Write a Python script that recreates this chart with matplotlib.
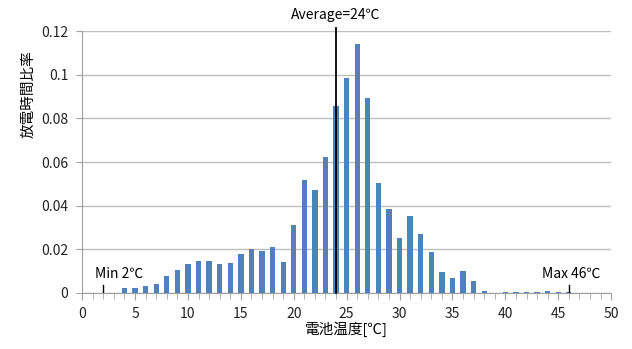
import matplotlib.pyplot as plt
from matplotlib.ticker import MultipleLocator, FuncFormatter

plt.rcParams['font.family'] = ['Noto Sans CJK JP', 'DejaVu Sans']

# battery temperature [degC] and share of discharge time
temps = list(range(2, 47))
ratios = [0.0002, 0.0002, 0.0023, 0.0023, 0.0030, 0.0039, 0.0076, 0.0106,
          0.0135, 0.0145, 0.0145, 0.0135, 0.0138, 0.0178, 0.0201, 0.0194,
          0.0211, 0.0144, 0.0313, 0.0519, 0.0471, 0.0623, 0.0857, 0.0983,
          0.1141, 0.0895, 0.0504, 0.0386, 0.0253, 0.0352, 0.0268, 0.0187,
          0.0098, 0.0067, 0.0102, 0.0056, 0.0011, 0.0, 0.0005, 0.0004,
          0.0004, 0.0004, 0.0008, 0.0006, 0.0004]

t_min, t_avg, t_max = 2, 24, 46
xlabel = '電池温度[℃]'
ylabel = '放電時間比率'

fig = plt.figure(figsize=(6.32, 3.49), dpi=100)
ax = fig.add_axes([0.13, 0.1605, 0.837, 0.7505])

ax.bar(temps, ratios, width=0.5, color='#4F81BD', zorder=3)

ax.set_xlim(0, 50)
ax.set_ylim(0, 0.12)
ax.xaxis.set_major_locator(MultipleLocator(5))
ax.xaxis.set_minor_locator(MultipleLocator(1))
ax.yaxis.set_major_locator(MultipleLocator(0.02))
ax.yaxis.set_major_formatter(FuncFormatter(lambda v, p: '%g' % round(v, 2)))

ax.grid(axis='y', color='#BEBEBE', linewidth=1, zorder=0)
for s in ['top', 'right']:
    ax.spines[s].set_visible(False)
for s in ['left', 'bottom']:
    ax.spines[s].set_color('#A0A0A0')
ax.tick_params(axis='both', which='both', color='#A0A0A0', labelsize=10,
               labelcolor='#222222')
ax.tick_params(axis='x', which='major', length=5, pad=5)
ax.tick_params(axis='x', which='minor', length=4)
ax.tick_params(axis='y', length=4, pad=6)

ax.set_xlabel(xlabel, fontsize=10.5)
ax.xaxis.set_label_coords(0.5, -0.108)
ax.set_ylabel(ylabel, fontsize=10.5)
ax.yaxis.set_label_coords(-0.089, 0.76)

# average, min, max markers
ax.plot([t_avg, t_avg], [0, 0.1215], color='black', linewidth=1.3,
        clip_on=False, zorder=5)
ax.text(t_avg, 0.1240, 'Average=%d℃' % t_avg, ha='center', va='bottom',
        fontsize=10, clip_on=False)
ax.plot([t_min, t_min], [0, 0.0036], color='black', linewidth=1, zorder=5)
ax.text(t_min + 1.45, 0.0055, 'Min %d℃' % t_min, ha='center', va='bottom',
        fontsize=10)
ax.plot([t_max, t_max], [0, 0.0036], color='black', linewidth=1, zorder=5)
ax.text(t_max + 0.2, 0.0055, 'Max %d℃' % t_max, ha='center', va='bottom',
        fontsize=10)

fig.savefig('out.png', dpi=100)
